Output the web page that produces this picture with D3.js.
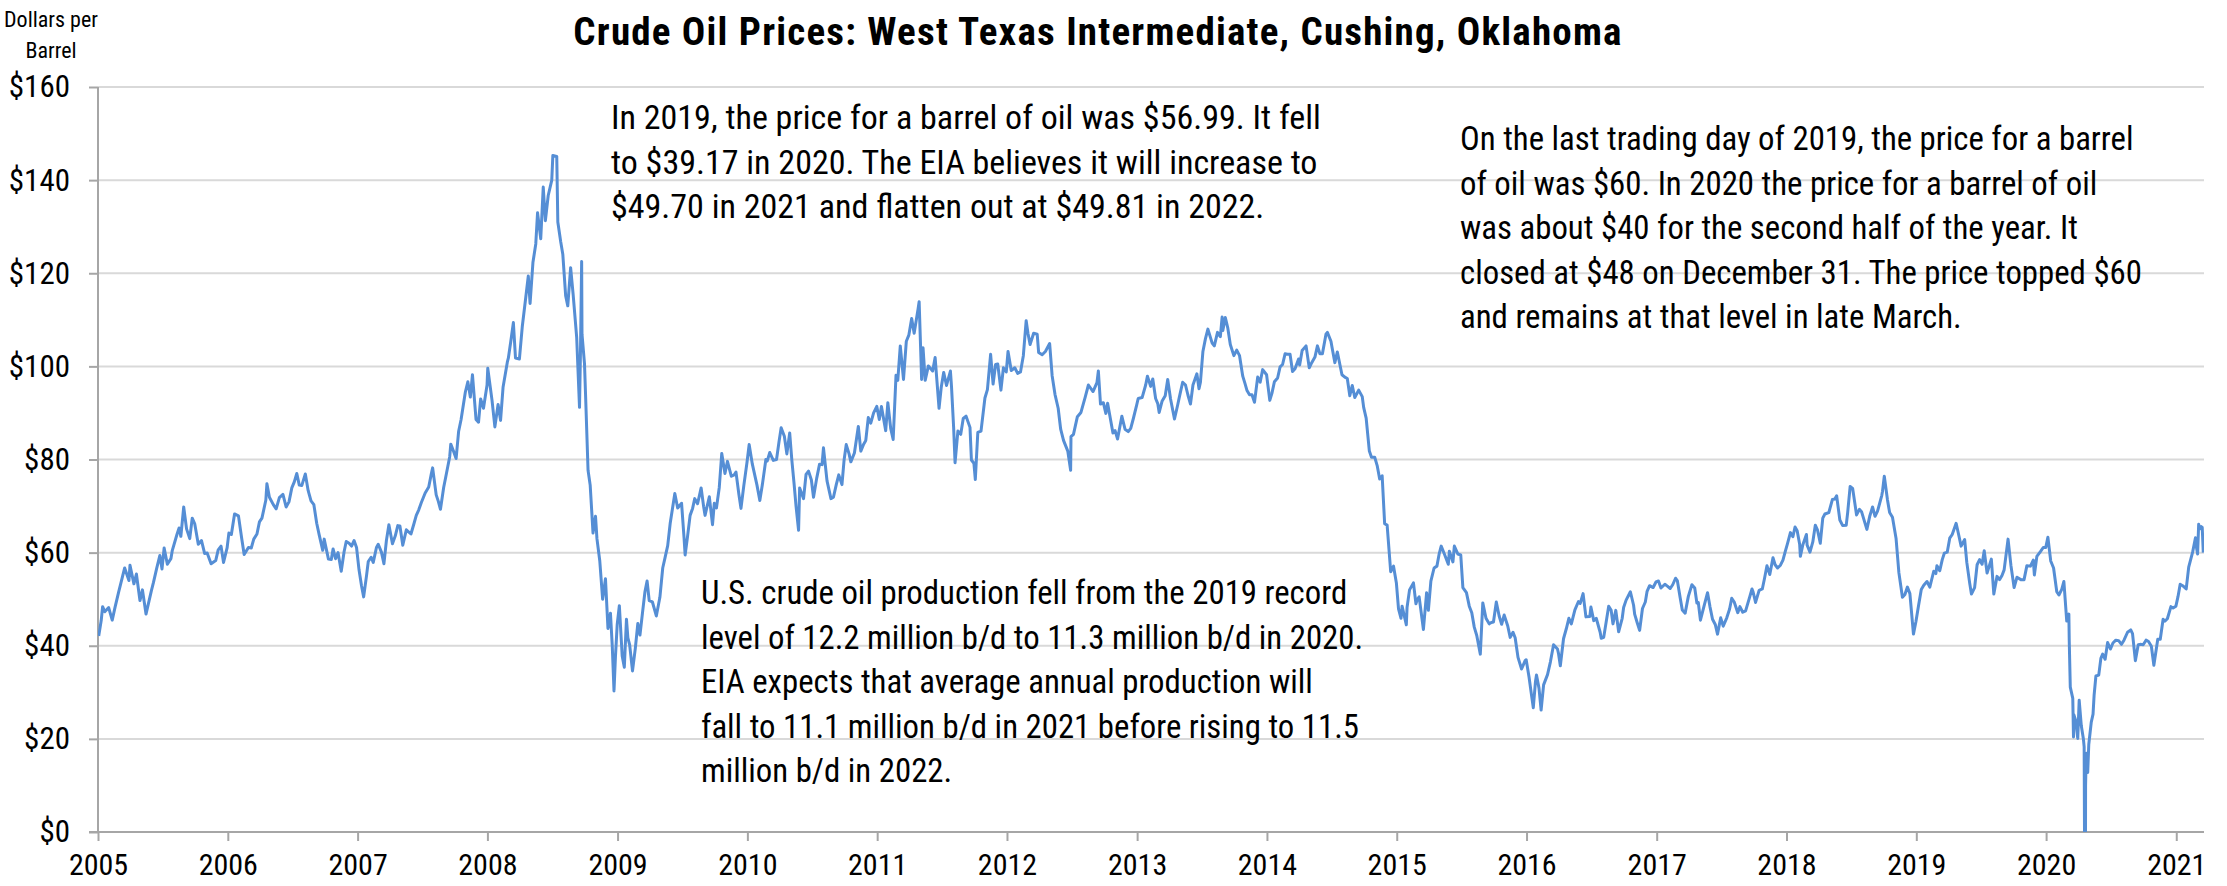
<!DOCTYPE html>
<html>
<head>
<meta charset="utf-8">
<script src="https://cdn.jsdelivr.net/npm/d3@7"></script>
<style>
  body { margin: 0; background: #fff; }
  svg text { font-family: "Liberation Sans Narrow", "Arial Narrow", "Roboto Condensed", "DejaVu Sans Condensed", sans-serif; fill: #000; }
</style>
</head>
<body>
<div id="chart"></div>
<script>
// WTI spot price, dollars per barrel ([month-day, price] per year)
var p2005 = [["01-03",42.1],["01-10",45.4],["01-14",48.4],["01-20",47.3],["01-31",48.2],["02-10",45.5],["02-18",48.3],["02-28",51.5],["03-10",54.6],["03-17",56.7],["03-29",54.0],["04-01",57.3],["04-12",53.3],["04-19",55.4],["04-29",49.7],["05-06",52.0],["05-16",46.8],["05-31",51.8],["06-06",53.6],["06-15",56.6],["06-24",59.4],["06-30",56.5],["07-06",61.0],["07-15",57.5],["07-25",58.7],["07-29",60.5],["08-11",63.9],["08-17",65.3],["08-22",63.5],["08-30",69.8],["09-07",65.1],["09-16",63.0],["09-23",67.4],["09-30",66.2],["10-10",61.8],["10-19",62.6],["10-28",59.8],["11-04",59.9],["11-15",57.6],["11-28",58.3],["12-05",60.6],["12-13",61.4],["12-20",57.9],["12-30",61.0]];
var p2006 = [["01-04",64.2],["01-11",63.9],["01-20",68.3],["01-31",67.9],["02-09",63.1],["02-16",59.6],["02-28",61.1],["03-08",61.0],["03-15",62.9],["03-24",64.0],["03-31",66.6],["04-07",67.4],["04-18",71.3],["04-21",74.8],["04-28",71.9],["05-09",70.3],["05-17",69.4],["05-26",71.8],["06-05",72.5],["06-14",69.8],["06-22",70.9],["06-30",73.9],["07-07",75.2],["07-14",77.0],["07-21",74.5],["07-28",74.4],["08-07",76.9],["08-15",73.3],["08-23",71.1],["08-31",70.3],["09-08",66.3],["09-15",63.8],["09-25",60.5],["09-29",62.9],["10-11",58.6],["10-19",58.5],["10-24",60.8],["10-31",58.7],["11-07",60.0],["11-16",56.0],["11-24",60.2],["11-30",62.4],["12-08",62.0],["12-15",61.4],["12-22",62.6],["12-29",61.1]];
var p2007 = [["01-05",56.3],["01-12",52.9],["01-18",50.5],["01-26",55.0],["01-31",58.1],["02-08",59.0],["02-14",57.9],["02-23",61.1],["02-28",61.8],["03-09",60.1],["03-16",57.6],["03-23",62.6],["03-30",66.0],["04-09",61.9],["04-17",63.6],["04-24",65.8],["04-30",65.7],["05-08",61.6],["05-18",64.9],["05-31",64.0],["06-08",66.1],["06-15",68.0],["06-22",69.2],["06-29",70.7],["07-10",72.8],["07-20",74.1],["07-27",76.8],["07-31",78.2],["08-10",72.4],["08-16",71.0],["08-22",69.3],["08-31",74.0],["09-06",76.3],["09-17",80.6],["09-20",83.3],["09-28",81.7],["10-05",80.2],["10-12",86.0],["10-19",88.6],["10-31",94.5],["11-07",96.7],["11-14",93.4],["11-20",98.2],["11-30",88.6],["12-07",88.0],["12-13",93.0],["12-21",91.0],["12-31",96.0]];
var p2008 = [["01-02",99.6],["01-14",92.7],["01-22",87.0],["01-31",91.8],["02-07",88.4],["02-14",95.5],["02-26",100.9],["02-29",101.8],["03-07",105.5],["03-14",109.4],["03-20",101.8],["03-31",101.6],["04-08",108.5],["04-18",114.9],["04-25",119.4],["04-30",113.5],["05-08",122.3],["05-16",126.3],["05-21",133.0],["05-30",127.4],["06-06",138.5],["06-12",131.3],["06-20",136.7],["06-30",140.0],["07-03",145.3],["07-14",145.1],["07-17",131.0],["07-25",126.8],["07-31",124.1],["08-08",115.2],["08-14",113.0],["08-22",121.2],["08-29",115.5],["09-08",106.3],["09-16",91.2],["09-19",104.6],["09-22",122.5],["09-23",106.9],["09-30",100.6],["10-03",93.9],["10-10",77.7],["10-16",74.5],["10-24",64.2],["10-31",67.8],["11-04",63.0],["11-12",58.2],["11-20",50.0],["11-28",54.4],["12-05",43.7],["12-12",47.0],["12-17",40.1],["12-22",30.3],["12-26",37.6],["12-31",44.6]];
var p2009 = [["01-06",48.6],["01-14",37.8],["01-20",35.4],["01-26",45.7],["01-30",41.7],["02-04",40.2],["02-12",34.6],["02-20",39.5],["02-27",44.8],["03-05",42.3],["03-12",47.0],["03-19",51.6],["03-25",53.9],["03-31",49.7],["04-09",49.4],["04-20",46.4],["04-30",50.4],["05-08",56.7],["05-15",59.1],["05-22",61.5],["05-29",66.3],["06-11",72.7],["06-19",69.6],["06-30",70.6],["07-07",63.1],["07-10",59.5],["07-17",63.6],["07-24",68.0],["07-31",69.5],["08-06",71.6],["08-14",70.5],["08-24",73.9],["08-31",69.9],["09-04",68.0],["09-16",72.0],["09-25",66.0],["09-30",70.6],["10-06",69.6],["10-14",74.0],["10-21",81.3],["10-30",77.0],["11-06",79.6],["11-17",76.4],["11-25",76.7],["11-30",77.3],["12-08",72.6],["12-14",69.5],["12-22",74.4],["12-31",79.4]];
var p2010 = [["01-06",83.2],["01-15",79.0],["01-28",74.5],["02-05",71.2],["02-12",74.5],["02-22",80.0],["02-26",79.7],["03-05",81.5],["03-15",79.8],["03-24",80.0],["03-31",83.8],["04-06",86.8],["04-15",85.0],["04-22",81.2],["04-30",85.7],["05-06",79.9],["05-12",75.1],["05-18",69.9],["05-25",64.8],["05-28",73.9],["06-08",71.6],["06-15",76.8],["06-22",77.5],["06-30",75.6],["07-06",71.9],["07-15",76.0],["07-23",79.0],["07-30",78.9],["08-03",82.5],["08-13",75.4],["08-24",71.6],["08-31",71.9],["09-08",74.6],["09-15",76.7],["09-24",74.6],["09-30",79.9],["10-06",83.2],["10-14",81.2],["10-19",79.5],["10-29",81.4],["11-09",87.1],["11-16",81.8],["11-24",83.3],["11-30",84.1],["12-07",89.0],["12-14",87.8],["12-22",90.0],["12-31",91.4]];
var p2011 = [["01-07",88.6],["01-13",91.4],["01-25",86.2],["01-31",92.2],["02-08",86.7],["02-15",84.3],["02-23",98.1],["02-28",97.0],["03-07",104.4],["03-16",97.2],["03-24",105.4],["03-31",106.7],["04-08",110.3],["04-15",107.1],["04-26",112.3],["04-29",113.9],["05-06",97.2],["05-10",104.0],["05-16",97.0],["05-25",100.1],["06-06",99.0],["06-13",101.9],["06-24",91.0],["06-30",95.4],["07-07",98.7],["07-15",95.9],["07-26",99.0],["07-29",95.7],["08-04",86.9],["08-08",79.3],["08-16",86.1],["08-24",85.4],["08-31",88.8],["09-08",89.3],["09-19",86.9],["09-23",79.9],["09-30",79.2],["10-04",75.7],["10-11",85.8],["10-20",86.1],["10-31",93.2],["11-07",95.0],["11-16",102.6],["11-23",96.2],["11-30",100.4],["12-06",100.5],["12-15",94.9],["12-22",99.7],["12-30",98.8]];
var p2012 = [["01-04",103.2],["01-13",99.1],["01-23",99.7],["01-31",98.5],["02-08",98.8],["02-16",102.3],["02-24",109.8],["02-29",107.1],["03-06",104.7],["03-16",107.1],["03-26",106.9],["03-30",103.0],["04-09",102.5],["04-18",103.2],["04-30",104.9],["05-07",98.0],["05-15",94.0],["05-24",91.0],["05-31",86.5],["06-08",84.1],["06-20",81.8],["06-28",77.7],["06-29",84.9],["07-06",85.4],["07-17",89.2],["07-27",90.1],["08-08",93.4],["08-17",96.0],["08-30",94.6],["09-10",96.5],["09-14",99.0],["09-20",91.9],["09-28",92.2],["10-05",89.9],["10-10",92.1],["10-25",85.7],["10-31",86.2],["11-07",84.4],["11-19",89.3],["11-28",86.5],["12-07",86.0],["12-14",86.7],["12-21",88.7],["12-31",91.8]];
var p2013 = [["01-04",93.1],["01-15",93.3],["01-25",96.0],["01-30",97.9],["02-08",95.7],["02-14",97.3],["02-22",93.1],["02-28",92.0],["03-04",90.1],["03-12",92.5],["03-21",93.7],["03-28",97.2],["04-05",93.0],["04-16",88.7],["04-25",91.7],["04-30",93.5],["05-09",96.6],["05-17",96.0],["05-24",93.8],["05-31",91.9],["06-07",96.0],["06-18",98.4],["06-24",95.2],["06-28",96.6],["07-05",103.2],["07-12",105.9],["07-19",108.0],["07-31",105.0],["08-06",104.4],["08-15",107.3],["08-23",106.4],["08-28",110.6],["08-30",107.7],["09-06",110.5],["09-13",108.2],["09-20",104.7],["09-30",102.3],["10-08",103.5],["10-16",102.3],["10-25",97.9],["10-31",96.4],["11-06",94.8],["11-13",93.9],["11-20",93.9],["11-27",92.3],["12-06",97.7],["12-13",96.6],["12-20",99.3],["12-31",98.2]];
var p2014 = [["01-09",92.7],["01-15",94.2],["01-22",96.7],["01-31",97.5],["02-07",99.9],["02-14",100.4],["02-21",102.7],["02-28",102.6],["03-07",102.6],["03-14",98.9],["03-21",99.5],["03-31",101.6],["04-03",100.3],["04-10",103.4],["04-21",104.4],["04-30",99.7],["05-07",100.8],["05-16",102.0],["05-23",104.4],["05-30",102.7],["06-06",102.7],["06-16",106.9],["06-20",107.3],["06-30",105.4],["07-03",104.1],["07-11",100.8],["07-18",103.1],["07-31",98.2],["08-08",97.7],["08-15",97.4],["08-22",93.7],["08-29",95.9],["09-05",93.3],["09-16",94.9],["09-26",93.5],["09-30",91.2],["10-07",88.9],["10-16",81.8],["10-22",80.5],["10-31",80.5],["11-07",78.7],["11-14",75.8],["11-21",76.5],["11-28",66.2],["12-05",65.9],["12-15",55.9],["12-23",57.1],["12-31",53.5]];
var p2015 = [["01-06",47.9],["01-13",45.9],["01-16",48.5],["01-28",44.5],["01-30",48.2],["02-06",52.0],["02-17",53.5],["02-24",49.0],["02-27",49.8],["03-05",50.5],["03-17",43.5],["03-26",51.4],["03-31",47.6],["04-07",53.9],["04-16",56.7],["04-24",57.1],["04-30",59.6],["05-06",61.4],["05-15",59.7],["05-26",57.5],["05-29",60.3],["06-08",58.0],["06-12",61.4],["06-22",59.7],["06-30",59.5],["07-06",52.5],["07-16",51.4],["07-24",48.5],["07-31",47.1],["08-07",44.0],["08-14",42.2],["08-24",38.2],["08-31",49.2],["09-09",45.9],["09-18",44.7],["09-24",45.0],["09-30",45.1],["10-08",49.4],["10-16",46.4],["10-23",44.6],["10-30",46.6],["11-09",44.3],["11-16",41.8],["11-24",42.9],["11-30",41.7],["12-08",37.5],["12-18",35.0],["12-28",36.8],["12-31",37.0]];
var p2016 = [["01-08",33.3],["01-15",29.4],["01-20",26.7],["01-26",32.2],["01-29",33.7],["02-05",30.9],["02-11",26.2],["02-18",31.6],["02-29",33.8],["03-08",36.5],["03-17",40.2],["03-28",39.3],["03-31",38.3],["04-05",35.7],["04-14",41.5],["04-22",43.7],["04-29",45.9],["05-06",44.7],["05-16",47.7],["05-26",49.5],["05-31",49.1],["06-08",51.2],["06-16",46.2],["06-27",46.3],["06-30",48.3],["07-08",45.4],["07-15",45.9],["07-26",42.9],["07-29",41.6],["08-05",41.8],["08-19",48.5],["08-26",47.6],["08-31",44.7],["09-08",47.6],["09-16",43.0],["09-26",45.9],["09-30",48.2],["10-07",49.8],["10-19",51.6],["10-28",48.7],["10-31",46.8],["11-07",45.0],["11-14",43.3],["11-22",48.0],["11-30",49.4],["12-05",51.7],["12-12",52.9],["12-22",52.5],["12-30",53.7]];
var p2017 = [["01-06",53.9],["01-13",52.4],["01-24",53.2],["01-31",52.8],["02-08",52.3],["02-15",53.1],["02-23",54.5],["02-28",54.0],["03-08",50.3],["03-14",47.7],["03-22",47.0],["03-31",50.6],["04-10",53.1],["04-18",52.4],["04-24",49.2],["04-28",49.3],["05-04",45.5],["05-15",48.8],["05-24",51.4],["05-31",48.3],["06-07",45.7],["06-15",44.5],["06-21",42.5],["06-30",46.0],["07-07",44.2],["07-17",46.0],["07-25",47.9],["07-31",50.2],["08-07",49.4],["08-17",47.1],["08-23",48.4],["08-31",47.2],["09-08",47.5],["09-20",50.6],["09-26",52.2],["09-29",51.6],["10-06",49.3],["10-16",51.9],["10-25",52.2],["10-31",54.4],["11-07",57.2],["11-15",55.3],["11-24",58.9],["11-30",57.4],["12-07",56.7],["12-15",57.3],["12-22",58.4],["12-29",60.4]];
var p2018 = [["01-04",62.0],["01-12",64.3],["01-19",63.4],["01-25",65.5],["01-31",64.7],["02-07",61.8],["02-09",59.2],["02-16",61.7],["02-26",63.9],["02-28",61.6],["03-08",60.1],["03-16",62.3],["03-23",65.9],["03-29",64.9],["04-06",62.0],["04-13",67.4],["04-19",68.3],["04-30",68.6],["05-10",71.4],["05-17",71.5],["05-22",72.2],["05-31",67.0],["06-08",65.8],["06-18",65.9],["06-22",68.6],["06-29",74.2],["07-06",73.8],["07-17",68.1],["07-25",69.3],["07-31",68.8],["08-15",65.0],["08-23",67.8],["08-31",69.8],["09-07",67.8],["09-14",68.9],["09-26",72.3],["09-28",73.2],["10-03",76.4],["10-12",71.3],["10-18",68.6],["10-26",67.6],["11-05",63.1],["11-13",55.7],["11-23",50.4],["11-30",51.0],["12-07",52.6],["12-14",51.2],["12-24",42.5],["12-31",45.2]];
var p2019 = [["01-07",48.5],["01-15",52.1],["01-22",53.0],["01-31",53.8],["02-08",52.6],["02-19",56.0],["02-25",55.5],["02-28",57.2],["03-08",56.1],["03-15",58.5],["03-21",59.9],["03-29",60.1],["04-05",63.1],["04-12",63.9],["04-23",66.3],["04-30",63.9],["05-07",61.4],["05-17",62.8],["05-23",57.9],["05-31",53.5],["06-05",51.1],["06-14",52.5],["06-21",57.4],["06-28",58.5],["07-05",57.5],["07-11",60.4],["07-19",55.6],["07-31",58.6],["08-07",51.1],["08-16",54.9],["08-23",54.2],["08-30",55.1],["09-05",56.3],["09-16",62.9],["09-24",57.3],["09-30",54.1],["10-03",52.5],["10-11",54.7],["10-22",54.2],["10-31",54.2],["11-08",57.2],["11-18",57.1],["11-26",58.4],["11-29",55.2],["12-06",59.2],["12-16",60.2],["12-24",61.1],["12-31",61.1]];
var p2020 = [["01-06",63.3],["01-14",58.2],["01-22",56.7],["01-31",51.6],["02-06",50.9],["02-14",52.1],["02-20",53.8],["02-28",45.3],["03-05",46.8],["03-06",41.3],["03-09",31.1],["03-16",28.7],["03-18",20.4],["03-19",25.2],["03-24",24.0],["03-30",20.1],["04-03",28.3],["04-09",22.8],["04-15",19.9],["04-17",18.3],["04-20",-37.6],["04-21",10.0],["04-22",13.8],["04-24",16.9],["04-27",12.8],["04-30",18.8],["05-07",23.6],["05-12",25.3],["05-15",29.4],["05-20",33.5],["05-28",33.7],["06-03",37.3],["06-08",38.2],["06-15",37.1],["06-22",40.7],["06-30",39.3],["07-07",40.6],["07-15",41.2],["07-23",41.1],["07-31",40.3],["08-07",41.2],["08-17",42.9],["08-26",43.4],["08-31",42.6],["09-08",36.8],["09-16",40.2],["09-24",40.3],["09-30",40.2],["10-08",41.2],["10-15",40.9],["10-23",39.9],["10-30",35.8],["11-10",41.4],["11-17",41.4],["11-25",45.7],["11-30",45.3],["12-07",45.8],["12-17",48.4],["12-23",48.1],["12-31",48.5]];
var p2021 = [["01-06",50.6],["01-12",53.2],["01-19",52.9],["01-29",52.2],["02-05",56.9],["02-16",60.1],["02-24",63.2],["02-26",61.5],["03-02",59.7],["03-05",66.1],["03-08",65.1],["03-12",65.6],["03-15",65.4],["03-18",60.0]];

var priceYears = [2005, 2006, 2007, 2008, 2009, 2010, 2011, 2012, 2013, 2014, 2015, 2016, 2017, 2018, 2019, 2020, 2021];
var yearSeries = [p2005, p2006, p2007, p2008, p2009, p2010, p2011, p2012, p2013, p2014, p2015, p2016, p2017, p2018, p2019, p2020, p2021];

var yTicks = [0, 20, 40, 60, 80, 100, 120, 140, 160];
var xTickYears = [2005, 2006, 2007, 2008, 2009, 2010, 2011, 2012, 2013, 2014, 2015, 2016, 2017, 2018, 2019, 2020, 2021];

var titleText = "Crude Oil Prices: West Texas Intermediate, Cushing, Oklahoma";
var unitLines = ["Dollars per", "Barrel"];
var note2019 = [
    "In 2019, the price for a barrel of oil was $56.99. It fell",
    "to $39.17 in 2020. The EIA believes it will increase to",
    "$49.70 in 2021 and flatten out at $49.81 in 2022."
];
var noteLastDay = [
    "On the last trading day of 2019, the price for a barrel",
    "of oil was $60. In 2020 the price for a barrel of oil",
    "was about $40 for the second half of the year. It",
    "closed at $48 on December 31. The price topped $60",
    "and remains at that level in late March."
];
var noteProduction = [
    "U.S. crude oil production fell from the 2019 record",
    "level of 12.2 million b/d to 11.3 million b/d in 2020.",
    "EIA expects that average annual production will",
    "fall to 11.1 million b/d in 2021 before rising to 11.5",
    "million b/d in 2022."
];

// flatten into one series
var parseDate = d3.timeParse("%Y-%m-%d");
var prices = [];
yearSeries.forEach(function (rows, i) {
    rows.forEach(function (r) {
        prices.push({ date: parseDate(priceYears[i] + "-" + r[0]), value: r[1] });
    });
});

var svgWidth = 2227;
var svgHeight = 886;

var margin = {
    top: 87,
    right: 23,
    bottom: 54,
    left: 98
};

var height = svgHeight - margin.top - margin.bottom;
var width = svgWidth - margin.left - margin.right;

var svg = d3.select("#chart")
    .append("svg")
    .attr("width", svgWidth)
    .attr("height", svgHeight);

svg.append("rect")
    .attr("width", svgWidth)
    .attr("height", svgHeight)
    .attr("fill", "#fff");

var chartGroup = svg.append("g")
    .attr("transform", `translate(${margin.left}, ${margin.top})`);

// scales
var xScale = d3.scaleTime()
    .domain([new Date(2005, 0, 1), new Date(2021, 2, 20)])
    .range([0, width]);

var yScale = d3.scaleLinear()
    .domain([0, 160])
    .range([height, 0]);

// gridlines
chartGroup.selectAll(".grid")
    .data(yTicks.filter(d => d > 0))
    .enter()
    .append("line")
    .attr("class", "grid")
    .attr("x1", 0)
    .attr("x2", width)
    .attr("y1", d => yScale(d))
    .attr("y2", d => yScale(d))
    .attr("stroke", "#d9d9d9")
    .attr("stroke-width", 2);

// y axis
var yAxis = d3.axisLeft(yScale)
    .tickValues(yTicks)
    .tickFormat(d => "$" + d)
    .tickSize(9)
    .tickPadding(19);

var yAxisGroup = chartGroup.append("g").call(yAxis);
yAxisGroup.select(".domain").remove();
yAxisGroup.append("line")
    .attr("x1", 0).attr("x2", 0)
    .attr("y1", 0).attr("y2", height)
    .attr("stroke", "#a6a6a6").attr("stroke-width", 2);
yAxisGroup.selectAll(".tick line").attr("stroke", "#a6a6a6").attr("stroke-width", 2);
yAxisGroup.selectAll(".tick text")
    .attr("font-size", 31)
    .attr("font-family", null);

// x axis
var xAxis = d3.axisBottom(xScale)
    .tickValues(xTickYears.map(y => new Date(y, 0, 1)))
    .tickFormat(d3.timeFormat("%Y"))
    .tickSize(9)
    .tickPadding(13);

var xAxisGroup = chartGroup.append("g")
    .attr("transform", `translate(0, ${height})`)
    .call(xAxis);
xAxisGroup.select(".domain").remove();
xAxisGroup.append("line")
    .attr("x1", -9).attr("x2", width)
    .attr("y1", 0).attr("y2", 0)
    .attr("stroke", "#a6a6a6").attr("stroke-width", 2);
xAxisGroup.selectAll(".tick line").attr("stroke", "#a6a6a6").attr("stroke-width", 2);
xAxisGroup.selectAll(".tick text")
    .attr("font-size", 30)
    .attr("font-family", null);

// clip so the April 2020 negative price stops at the axis
svg.append("clipPath")
    .attr("id", "plotClip")
    .append("rect")
    .attr("x", 0)
    .attr("y", -10)
    .attr("width", width)
    .attr("height", height + 10);

// line generator
var line = d3.line()
    .x(d => xScale(d.date))
    .y(d => yScale(d.value));

chartGroup.append("path")
    .datum(prices)
    .attr("clip-path", "url(#plotClip)")
    .attr("d", line)
    .attr("fill", "none")
    .attr("stroke", "#558ed5")
    .attr("stroke-width", 3)
    .attr("stroke-linejoin", "round");

// title and unit label
svg.append("text")
    .attr("x", 1098)
    .attr("y", 45)
    .attr("text-anchor", "middle")
    .attr("font-size", 39)
    .attr("letter-spacing", 1.2)
    .attr("font-weight", "bold")
    .text(titleText);

svg.selectAll(".unit")
    .data(unitLines)
    .enter()
    .append("text")
    .attr("class", "unit")
    .attr("x", 51)
    .attr("y", (d, i) => 27 + i * 31)
    .attr("text-anchor", "middle")
    .attr("font-size", 22)
    .text(d => d);

// annotations
function addNote(lines, x, y0, size) {
    svg.append("g")
        .selectAll("text")
        .data(lines)
        .enter()
        .append("text")
        .attr("x", x)
        .attr("y", (d, i) => y0 + i * 44.5)
        .attr("font-size", size)
        .text(d => d);
}

addNote(note2019, 611, 129, 34);
addNote(noteLastDay, 1460, 150, 32.8);
addNote(noteProduction, 701, 604, 32.8);
</script>
</body>
</html>
